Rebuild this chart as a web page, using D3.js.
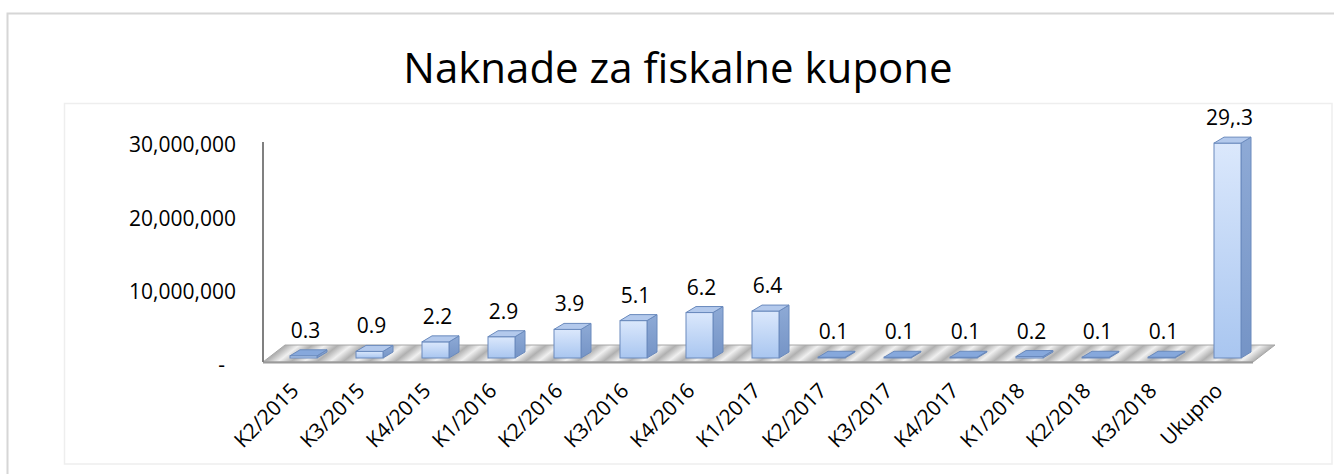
<!DOCTYPE html>
<html>
<head>
<meta charset="utf-8">
<script src="https://cdn.jsdelivr.net/npm/d3@7"></script>
<style>
  body { margin: 0; background: #fff; }
  text { font-family: "Open Sans", "Noto Sans", sans-serif; fill: #000; }
</style>
</head>
<body>
<div id="chart"></div>
<script>
const categories = ['K2/2015', 'K3/2015', 'K4/2015', 'K1/2016', 'K2/2016', 'K3/2016', 'K4/2016',
  'K1/2017', 'K2/2017', 'K3/2017', 'K4/2017', 'K1/2018', 'K2/2018', 'K3/2018', 'Ukupno'];
const values = [0.3e6, 0.9e6, 2.2e6, 2.9e6, 3.9e6, 5.1e6, 6.2e6, 6.4e6,
  0.1e6, 0.1e6, 0.1e6, 0.2e6, 0.1e6, 0.1e6, 29.3e6];
const valueLabels = ['0.3', '0.9', '2.2', '2.9', '3.9', '5.1', '6.2', '6.4',
  '0.1', '0.1', '0.1', '0.2', '0.1', '0.1', '29,.3'];
const yTicks = [0, 10e6, 20e6, 30e6];
const title = 'Naknade za fiskalne kupone';

const W = 1334, H = 474;
const floor = {dx: 22, dy: -17};   // depth of the 3D floor
const bar = {off: 27, w: 27, dx: 10, dy: -6, lift: 5}; // bar front offset inside band, depth

const svg = d3.select('#chart').append('svg')
  .attr('width', W)
  .attr('height', H);

const defs = svg.append('defs');

const front = defs.append('linearGradient').attr('id', 'front')
  .attr('x1', 0).attr('y1', 0).attr('x2', 0).attr('y2', 1);
front.append('stop').attr('offset', 0).attr('stop-color', '#dbe8fc');
front.append('stop').attr('offset', 1).attr('stop-color', '#a9c6f0');

const side = defs.append('linearGradient').attr('id', 'side')
  .attr('x1', 0).attr('y1', 0).attr('x2', 0).attr('y2', 1);
side.append('stop').attr('offset', 0).attr('stop-color', '#8eaad6');
side.append('stop').attr('offset', 1).attr('stop-color', '#7594c6');

const stripes = defs.append('linearGradient').attr('id', 'stripes')
  .attr('gradientUnits', 'userSpaceOnUse')
  .attr('spreadMethod', 'repeat')
  .attr('x1', 0).attr('y1', 0).attr('x2', 26).attr('y2', 0)
  .attr('gradientTransform', 'skewX(-52)');
stripes.append('stop').attr('offset', 0).attr('stop-color', '#b0b0b0');
stripes.append('stop').attr('offset', 0.5).attr('stop-color', '#f0f0f0');
stripes.append('stop').attr('offset', 1).attr('stop-color', '#b0b0b0');

// outer and inner frames
svg.append('rect')
  .attr('x', 7.5).attr('y', 13.5)
  .attr('width', W + 20).attr('height', H + 20)
  .attr('fill', 'none')
  .attr('stroke', '#d6d6d6')
  .attr('stroke-width', 2);

svg.append('rect')
  .attr('x', 64.5).attr('y', 103.5)
  .attr('width', 1332 - 64.5).attr('height', 464 - 103.5)
  .attr('fill', 'none')
  .attr('stroke', '#eeeeee')
  .attr('stroke-width', 1.5);

svg.append('text')
  .attr('x', 678)
  .attr('y', 83)
  .attr('text-anchor', 'middle')
  .style('font-size', '42px')
  .text(title);

const x = d3.scaleBand()
  .domain(categories)
  .range([263, 1253]);

const y = d3.scaleLinear()
  .domain([0, 30e6])
  .range([363, 143]);

// y axis labels
const yAxis = svg.append('g')
  .attr('transform', 'translate(246,2)')
  .call(d3.axisLeft(y)
    .tickValues(yTicks)
    .tickSize(0)
    .tickPadding(10)
    .tickFormat(d => d === 0 ? '-' : d3.format(',')(d)));
yAxis.select('.domain').remove();
yAxis.selectAll('text')
  .style('font-size', '21px')
  .style('font-family', '"Open Sans", sans-serif')
  .attr('fill', '#000')
  .attr('dx', d => d === 0 ? -11 : 0);

// floor
const fx0 = x.range()[0], fx1 = x.range()[1], fy = y(0) - 1;
svg.append('polygon')
  .attr('points', [[fx0, fy], [fx1, fy], [fx1 + floor.dx, fy + floor.dy], [fx0 + floor.dx, fy + floor.dy]].join(' '))
  .attr('fill', 'url(#stripes)')
  .attr('stroke', '#a6a6a6')
  .attr('stroke-width', 1);
svg.append('line')
  .attr('x1', fx0).attr('x2', fx1)
  .attr('y1', fy + 0.5).attr('y2', fy + 0.5)
  .attr('stroke', '#9a9a9a')
  .attr('stroke-width', 2);

// vertical axis line
svg.append('line')
  .attr('x1', fx0).attr('x2', fx0)
  .attr('y1', y(30e6) - 1).attr('y2', fy)
  .attr('stroke', '#808080')
  .attr('stroke-width', 2);

// bars
const bars = svg.append('g').selectAll('g')
  .data(categories.map((c, i) => ({c, v: values[i], label: valueLabels[i]})))
  .join('g');

const bx = d => x(d.c) + bar.off;
const bBottom = y(0) - bar.lift;
const bTop = d => bBottom - (y(0) - y(d.v));

bars.append('polygon') // side
  .attr('points', d => [[bx(d) + bar.w, bTop(d)], [bx(d) + bar.w + bar.dx, bTop(d) + bar.dy],
    [bx(d) + bar.w + bar.dx, bBottom + bar.dy], [bx(d) + bar.w, bBottom]].join(' '))
  .attr('fill', 'url(#side)')
  .attr('stroke', '#6a8abd')
  .attr('stroke-width', 1)
  .attr('stroke-linejoin', 'round');

bars.append('rect') // front
  .attr('x', bx)
  .attr('y', bTop)
  .attr('width', bar.w)
  .attr('height', d => bBottom - bTop(d))
  .attr('fill', 'url(#front)')
  .attr('stroke', '#6a8abd')
  .attr('stroke-width', 1);

bars.append('polygon') // top
  .attr('points', d => [[bx(d), bTop(d)], [bx(d) + bar.w, bTop(d)],
    [bx(d) + bar.w + bar.dx, bTop(d) + bar.dy], [bx(d) + bar.dx, bTop(d) + bar.dy]].join(' '))
  .attr('fill', d => d.v < 0.5e6 ? '#86a8dc' : '#b3c9ec')
  .attr('stroke', '#6a8abd')
  .attr('stroke-width', 1)
  .attr('stroke-linejoin', 'round');

bars.append('text')
  .attr('x', d => bx(d) + bar.w / 2 + 2)
  .attr('y', d => bTop(d) + bar.dy - 12)
  .attr('text-anchor', 'middle')
  .style('font-size', '21px')
  .text(d => d.label);

// category labels
svg.append('g').selectAll('text')
  .data(categories)
  .join('text')
  .attr('text-anchor', 'end')
  .attr('transform', d => `translate(${x(d) + x.bandwidth() / 2 + 4},392) rotate(-45)`)
  .style('font-size', '21px')
  .text(d => d);
</script>
</body>
</html>
